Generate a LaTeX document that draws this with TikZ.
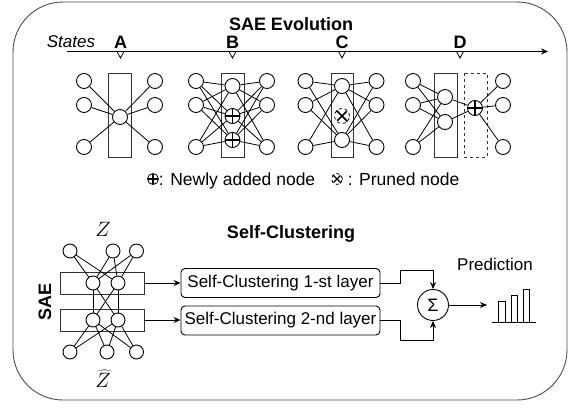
\documentclass[tikz,border=0pt]{standalone}
\usepackage{fontspec}
\setmainfont{Liberation Sans}
\usetikzlibrary{arrows.meta,calc}
\begin{document}
\begin{tikzpicture}[x=1pt,y=-1pt,line width=0.9pt,
  every node/.style={font=\fontsize{17}{20}\selectfont},
  neuron/.style={circle,draw,fill=white,minimum size=15pt,inner sep=0pt},
  sneuron/.style={circle,draw,fill=white,minimum size=14pt,inner sep=0pt},
  plusnode/.style={neuron,path picture={\draw[line width=1.5pt]
     (path picture bounding box.north) -- (path picture bounding box.south)
     (path picture bounding box.west) -- (path picture bounding box.east);}},
  prunenode/.style={neuron,dashed,line width=0.8pt},
  layerbox/.style={draw=black!80,line width=0.9pt},
  scbox/.style={draw,rounded corners=4pt,minimum width=199pt,minimum height=29pt,inner sep=0pt},
  arr/.style={-{Stealth[length=7pt,width=6pt]}},
  conn/.style={line width=0.8pt},
  lbl/.style={font=\fontsize{18}{21}\selectfont\bfseries,inner sep=0pt,anchor=base},
  legtxt/.style={font=\fontsize{17.5}{20}\selectfont,inner sep=0pt,anchor=base west}
]
\useasboundingbox (0,0) rectangle (575,407);
% outer frame
\draw[black!70,line width=0.9pt,rounded corners=50pt] (13,2) rectangle (567,400);
% title
\node[lbl] (title) at (291,30) {SAE Evolution};
\node[font=\fontsize{17}{20}\selectfont\itshape,inner sep=0pt,anchor=base] (states) at (71,47) {States};
% timeline
\coordinate (tl0) at (67,51.5);
\coordinate (tl1) at (548,51.5);
\draw[arr] (tl0) -- (tl1);
\foreach \x/\l in {120.5/A,232.5/B,342/C,460/D}{
  \node[lbl] (lab\l) at (\x,48.5) {\l};
  \draw[fill=white,line width=0.8pt] (\x-3.5,51.5) -- (\x+3.5,51.5) -- (\x,58) -- cycle;
}
% ---------- state A
\draw[layerbox] (108,73) rectangle (131,157);
\foreach \y [count=\i] in {81,105,147}{
  \node[neuron] (aL\i) at (84,\y) {};
  \node[neuron] (aR\i) at (155,\y) {};
}
\node[neuron] (aM) at (120,117) {};
\foreach \i in {1,2,3}{\draw[conn] (aL\i) -- (aM); \draw[conn] (aM) -- (aR\i);}
% ---------- state B
\draw[layerbox] (221,73) rectangle (244,157);
\foreach \y [count=\i] in {81,105,147}{
  \node[neuron] (bL\i) at (196,\y) {};
  \node[neuron] (bR\i) at (267,\y) {};
}
\node[neuron] (bM1) at (232.5,86) {};
\node[plusnode] (bM2) at (232.5,116) {};
\node[plusnode] (bM3) at (232.5,140) {};
\foreach \i in {1,2,3}{\foreach \j in {1,2,3}{
  \draw[conn] (bL\i) -- (bM\j); \draw[conn] (bM\j) -- (bR\i);}}
% ---------- state C
\draw[layerbox] (331,73) rectangle (353,157);
\foreach \y [count=\i] in {81,105,147}{
  \node[neuron] (cL\i) at (305.5,\y) {};
  \node[neuron] (cR\i) at (376.5,\y) {};
}
\node[neuron] (cM1) at (342,86) {};
\node[prunenode] (cP) at (342,116) {};
\draw[line width=1.5pt,shorten >=1.2pt,shorten <=1.2pt] (cP.north west) -- (cP.south east) (cP.north east) -- (cP.south west);
\node[neuron] (cM3) at (342,140) {};
\foreach \i in {1,2,3}{\foreach \j in {1,3}{
  \draw[conn] (cL\i) -- (cM\j); \draw[conn] (cM\j) -- (cR\i);}}
% ---------- state D
\draw[layerbox] (434,73) rectangle (457,157);
\draw[layerbox,dashed,line width=0.8pt] (464,73) rectangle (487,157);
\foreach \y [count=\i] in {81,105,147}{
  \node[neuron] (dL\i) at (413,\y) {};
  \node[neuron] (dR\i) at (503,\y) {};
}
\node[neuron] (dM1) at (445,97) {};
\node[neuron] (dM2) at (445,122) {};
\node[plusnode] (dP) at (475,108) {};
\foreach \i in {1,2,3}{\foreach \j in {1,2}{\draw[conn] (dL\i) -- (dM\j);}
  \draw[conn] (dP) -- (dR\i);}
\foreach \j in {1,2}{\draw[conn] (dM\j) -- (dP);}
% legend
\node[plusnode,minimum size=11pt,line width=0.8pt] (legP) at (153,179) {};
\node[legtxt] (legPt) at (158.5,185) {: Newly added node};
\node[prunenode,minimum size=11pt] (legX) at (337,179) {};
\draw[line width=1.3pt,shorten >=0.8pt,shorten <=0.8pt] (legX.north west) -- (legX.south east) (legX.north east) -- (legX.south west);
\node[legtxt] (legXt) at (342.5,185) {\ : Pruned node};
% ---------- Self-Clustering section
\node[lbl] (title2) at (291,238) {Self-Clustering};
\node[inner sep=0pt,font=\fontsize{20}{22}\selectfont] (Z) at (103,229) {$Z$};
\node[inner sep=0pt,anchor=base,font=\fontsize{20}{22}\selectfont] (Zh) at (103,387) {$\widehat{Z}$};
\node[font=\fontsize{18}{20}\selectfont\bfseries,rotate=90,inner sep=0pt] (sae) at (45,302) {SAE};
\node[layerbox,draw,minimum width=84pt,minimum height=22pt,inner sep=0pt] (r1) at (102,283) {};
\node[layerbox,draw,minimum width=84pt,minimum height=22pt,inner sep=0pt] (r2) at (102,320) {};
\foreach \x [count=\i] in {70,113,136.5}{
  \node[sneuron] (t\i) at (\x,251) {};
}
\foreach \x [count=\i] in {70,107,136.5}{
  \node[sneuron] (u\i) at (\x,352) {};
}
\node[sneuron] (h1) at (93,283) {};
\node[sneuron] (h2) at (118,283) {};
\node[sneuron] (g1) at (93,320) {};
\node[sneuron] (g2) at (118,320) {};
\foreach \i in {1,2,3}{\foreach \j in {1,2}{
  \draw[conn] (t\i) -- (h\j); \draw[conn] (g\j) -- (u\i);}}
\foreach \i in {1,2}{\foreach \j in {1,2}{\draw[conn] (h\i) -- (g\j);}}
% boxes
\node[scbox] (b1) at (280.5,283) {Self-Clustering 1-st layer};
\node[scbox] (b2) at (280.5,320.5) {Self-Clustering 2-nd layer};
\draw[arr] (r1) -- (b1);
\draw[arr] (r2.east) -- (b2.west |- r2.east);
\node[circle,draw,minimum size=31pt,inner sep=0pt,font=\fontsize{18}{20}\selectfont] (sum) at (433,305) {Σ};
\draw[arr] (b1.east) -| (400,270) -| (sum.north);
\draw[arr] (b2.east) -| (400,340) -| (sum.south);
\coordinate (pred) at (487,305);
\draw[arr] (sum) -- (pred);
\node[inner sep=0pt] (predt) at (495,264) {Prediction};
% bar chart
\draw[line width=1pt] (492,322) -- (536,322);
\draw[line width=0.9pt] (498.5,322) -- (498.5,301) -- (505.5,301) -- (505.5,322);
\draw[line width=0.9pt] (511,322) -- (511,295) -- (517,295) -- (517,322);
\draw[line width=0.9pt] (523,322) -- (523,289) -- (529,289) -- (529,322);
\end{tikzpicture}
\end{document}
